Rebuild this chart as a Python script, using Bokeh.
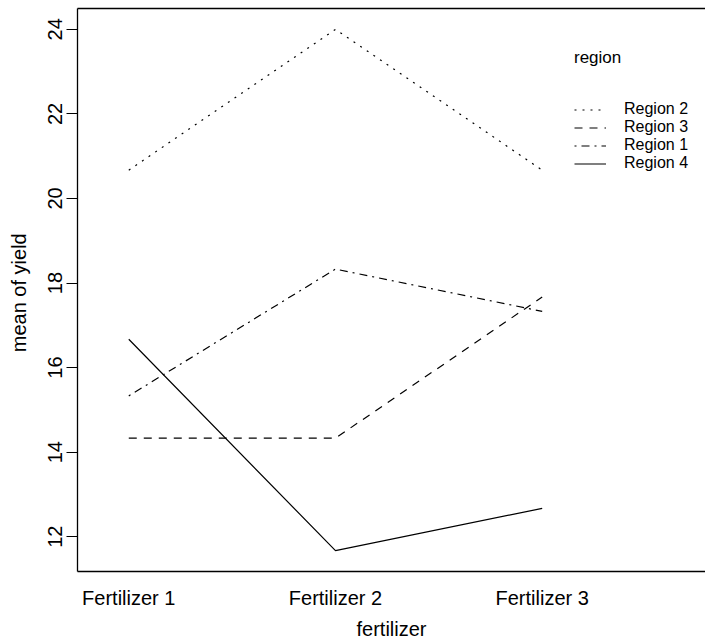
from bokeh.plotting import figure
from bokeh.models import (Range1d, FixedTicker, LinearAxis, Legend, LegendItem)
from bokeh.embed import file_html
from bokeh.resources import INLINE

# ---- data ----
fertilizers = ["Fertilizer 1", "Fertilizer 2", "Fertilizer 3"]
region_names = ["Region 2", "Region 3", "Region 1", "Region 4"]
region_2 = [20.67, 24.0, 20.67]
region_3 = [14.33, 14.33, 17.67]
region_1 = [15.33, 18.33, 17.33]
region_4 = [16.67, 11.67, 12.67]
y_ticks = [12, 14, 16, 18, 20, 22, 24]

series = [region_2, region_3, region_1, region_4]
dashes = ["2 6", "8 7", "2 5 8 5", "solid"]

xs = list(range(1, len(fertilizers) + 1))
all_vals = [v for s in series for v in s]
ymin, ymax = min(all_vals), max(all_vals)
pad = 0.04 * (ymax - ymin)

FONT = "Liberation Sans"

p = figure(width=705, height=642, output_backend="svg", toolbar_location=None,
           x_range=Range1d(0.752, 3.790), y_range=Range1d(ymin - pad, ymax + pad),
           min_border_left=77, min_border_right=0, min_border_top=8, min_border_bottom=69,
           x_axis_location=None, y_axis_location=None)
p.outline_line_color = None
p.grid.visible = False
p.background_fill_color = "white"
p.border_fill_color = "white"

# left axis
ya = LinearAxis(ticker=FixedTicker(ticks=y_ticks))
ya.axis_label = "mean of  yield"
ya.axis_label_text_font = FONT
ya.axis_label_text_font_size = "20px"
ya.axis_label_text_font_style = "normal"
ya.axis_label_text_color = "black"
ya.axis_label_standoff = 16
ya.major_label_text_font = FONT
ya.major_label_text_font_size = "20px"
ya.major_label_text_color = "black"
ya.major_label_orientation = "vertical"
ya.major_label_standoff = 4
ya.major_tick_out = 11
ya.major_tick_in = 0
ya.minor_tick_out = 0
ya.minor_tick_in = 0
ya.axis_line_color = "black"
ya.major_tick_line_color = "black"
ya.axis_line_width = 1.3
ya.major_tick_line_width = 1.0
p.add_layout(ya, "left")

# bottom axis
xa = LinearAxis(ticker=FixedTicker(ticks=xs),
                major_label_overrides={x: f for x, f in zip(xs, fertilizers)})
xa.axis_label = "fertilizer"
xa.axis_label_text_font = FONT
xa.axis_label_text_font_size = "20px"
xa.axis_label_text_font_style = "normal"
xa.axis_label_text_color = "black"
xa.axis_label_standoff = 6
xa.major_label_text_font = FONT
xa.major_label_text_font_size = "20px"
xa.major_label_text_color = "black"
xa.major_label_standoff = 15
xa.major_tick_out = 0
xa.major_tick_in = 0
xa.minor_tick_out = 0
xa.minor_tick_in = 0
xa.axis_line_color = "black"
xa.axis_line_width = 1.3
p.add_layout(xa, "below")

# top border (axis line only)
ta = LinearAxis(ticker=FixedTicker(ticks=[]))
ta.major_tick_out = 0
ta.major_tick_in = 0
ta.minor_tick_out = 0
ta.minor_tick_in = 0
ta.major_label_text_font_size = "0px"
ta.major_label_standoff = 0
ta.axis_line_color = "black"
ta.axis_line_width = 1.3
p.add_layout(ta, "above")

# one legend per row so rows can sit close together
legend_rows_vy = [453, 435, 417, 399]
for i, (name, vals, dash) in enumerate(zip(region_names, series, dashes)):
    r = p.line(xs, vals, line_color="black", line_width=1.2, line_dash=dash)
    kw = dict(items=[LegendItem(label=name, renderers=[r])],
              location=(497, legend_rows_vy[i]),
              label_text_font=FONT, label_text_font_size="16px", label_text_color="black",
              glyph_width=32, glyph_height=15, label_height=15, label_standoff=18,
              spacing=0, padding=0, margin=0,
              border_line_color=None, background_fill_alpha=0)
    if i == 0:
        kw.update(title="region", title_text_font=FONT, title_text_font_size="17px",
                  title_text_font_style="normal", title_text_color="black",
                  title_standoff=32)
    p.add_layout(Legend(**kw))

open("out.html", "w").write(file_html(p, INLINE))
